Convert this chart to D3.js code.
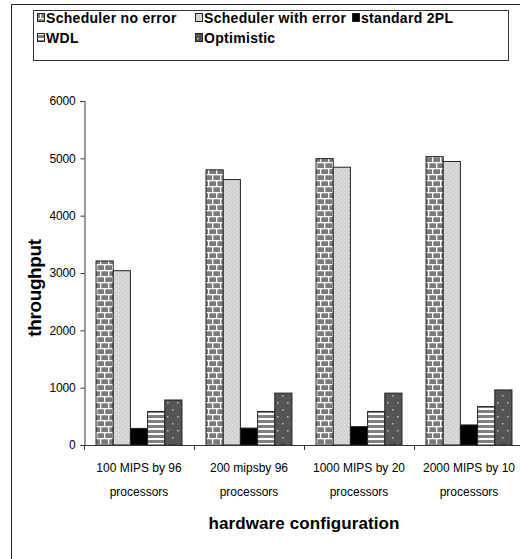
<!DOCTYPE html>
<html>
<head>
<meta charset="utf-8">
<script src="https://cdn.jsdelivr.net/npm/d3@7"></script>
<style>
  html, body { margin: 0; padding: 0; background: #fff; }
  svg { display: block; font-family: "Liberation Sans", Arial, sans-serif; }
</style>
</head>
<body>
<svg id="chart" width="520" height="559"></svg>
<script>
// ---- data ----
const categories = ["100 MIPS by 96|processors", "200 mipsby 96|processors", "1000 MIPS by 20|processors", "2000 MIPS by 10|processors"];
const seriesNames = ["Scheduler no error", "Scheduler with error", "standard 2PL", "WDL", "Optimistic"];
const schedulerNoError   = [3210, 4800, 4995, 5030];
const schedulerWithError = [3040, 4630, 4845, 4945];
const standard2PL        = [290, 295, 320, 350];
const wdl                = [585, 585, 585, 670];
const optimistic         = [785, 905, 905, 960];
const yTicks = [0, 1000, 2000, 3000, 4000, 5000, 6000];

const seriesValues = [schedulerNoError, schedulerWithError, standard2PL, wdl, optimistic];
const fills = ["url(#brick)", "url(#dots)", "#000", "url(#stripes)", "url(#darkdots)"];

const svg = d3.select("#chart");
const defs = svg.append("defs");

// brick pattern
const brick = defs.append("pattern").attr("id", "brick").attr("patternUnits", "userSpaceOnUse")
  .attr("width", 8).attr("height", 12);
brick.append("rect").attr("width", 8).attr("height", 12).attr("fill", "#7a7a7a");
brick.append("rect").attr("x", 0).attr("y", 0).attr("width", 8).attr("height", 1.3).attr("fill", "#fff");
brick.append("rect").attr("x", 0).attr("y", 6).attr("width", 8).attr("height", 1.3).attr("fill", "#fff");
brick.append("rect").attr("x", 0).attr("y", 0).attr("width", 1.3).attr("height", 6).attr("fill", "#fff");
brick.append("rect").attr("x", 4).attr("y", 6).attr("width", 1.3).attr("height", 6).attr("fill", "#fff");

// light dotted pattern
const dots = defs.append("pattern").attr("id", "dots").attr("patternUnits", "userSpaceOnUse")
  .attr("width", 4).attr("height", 4);
dots.append("rect").attr("width", 4).attr("height", 4).attr("fill", "#d2d2d2");
dots.append("rect").attr("x", 0).attr("y", 0).attr("width", 1).attr("height", 1).attr("fill", "#ececec");
dots.append("rect").attr("x", 2).attr("y", 2).attr("width", 1).attr("height", 1).attr("fill", "#ececec");

// stripes pattern
const stripes = defs.append("pattern").attr("id", "stripes").attr("patternUnits", "userSpaceOnUse")
  .attr("width", 8).attr("height", 5);
stripes.append("rect").attr("width", 8).attr("height", 5).attr("fill", "#fff");
stripes.append("rect").attr("y", 0).attr("width", 8).attr("height", 3).attr("fill", "#808080");

// dark dotted pattern
const dd = defs.append("pattern").attr("id", "darkdots").attr("patternUnits", "userSpaceOnUse")
  .attr("width", 10).attr("height", 14);
dd.append("rect").attr("width", 10).attr("height", 14).attr("fill", "#555");
dd.append("rect").attr("x", 2).attr("y", 3).attr("width", 1.5).attr("height", 1.5).attr("fill", "#bbb");
dd.append("rect").attr("x", 7).attr("y", 10).attr("width", 1.5).attr("height", 1.5).attr("fill", "#bbb");

// outer frame
svg.append("path").attr("d", "M11.5,559 V4.5 H520").attr("fill", "none").attr("stroke", "#222").attr("stroke-width", 1);

// scales
const x = d3.scaleBand().domain(categories).range([84, 524]).padding(0);
const xs = d3.scaleBand().domain(d3.range(seriesNames.length)).range([0, x.bandwidth()]).paddingInner(0).paddingOuter(0.7);
const y = d3.scaleLinear().domain([0, 6000]).range([445, 101]);

// bars
categories.forEach((c, ci) => {
  seriesValues.forEach((vals, si) => {
    svg.append("rect")
      .attr("x", x(c) + xs(si))
      .attr("y", y(vals[ci]))
      .attr("width", xs.bandwidth())
      .attr("height", y(0) - y(vals[ci]))
      .attr("fill", fills[si])
      .attr("stroke", "#222")
      .attr("stroke-width", 1);
  });
});

// y axis
const yAxis = d3.axisLeft(y).tickValues(yTicks).tickSize(4).tickPadding(5).tickFormat(d3.format("d"));
const gy = svg.append("g").attr("transform", "translate(84.5,0)").call(yAxis);
gy.select(".domain").attr("stroke", "#333");
gy.selectAll(".tick line").attr("stroke", "#333");
gy.selectAll(".tick text").attr("font-size", 12).attr("fill", "#000").attr("letter-spacing", "-0.2px")
  .attr("font-family", "'Liberation Sans', Arial, sans-serif");

// x axis line and boundary ticks
svg.append("line").attr("x1", 84).attr("x2", 524).attr("y1", 445.5).attr("y2", 445.5).attr("stroke", "#333");
const boundaries = categories.map(c => x(c)).concat([x(categories[categories.length - 1]) + x.bandwidth()]);
svg.selectAll(".xtick").data(boundaries).enter().append("line")
  .attr("x1", d => Math.round(d) + 0.5).attr("x2", d => Math.round(d) + 0.5)
  .attr("y1", 445).attr("y2", 450).attr("stroke", "#333");

// category labels
categories.forEach(c => {
  const lines = c.split("|");
  const cx = x(c) + x.bandwidth() / 2;
  lines.forEach((t, i) => {
    svg.append("text").attr("x", cx).attr("y", 472 + i * 24)
      .attr("text-anchor", "middle").attr("font-size", 12).attr("letter-spacing", "0px").text(t);
  });
});

// axis titles
svg.append("text").attr("x", 304).attr("y", 529).attr("text-anchor", "middle")
  .attr("font-size", 17).attr("font-weight", "bold").attr("letter-spacing", "0.1px").text("hardware configuration");
svg.append("text").attr("transform", "translate(41,288) rotate(-90)").attr("text-anchor", "middle")
  .attr("font-size", 19).attr("font-weight", "bold").attr("letter-spacing", "-0.4px").text("throughput");

// legend
svg.append("rect").attr("x", 33.5).attr("y", 10.5).attr("width", 475).attr("height", 50)
  .attr("fill", "#fff").attr("stroke", "#333");
const legendPos = [[37, 18], [195, 18], [352, 18], [37, 38], [195, 38]];
seriesNames.forEach((n, i) => {
  const [lx, ly] = legendPos[i];
  svg.append("rect").attr("x", lx + 0.5).attr("y", ly - 4.5).attr("width", 7).attr("height", 8)
    .attr("fill", fills[i]).attr("stroke", "#222");
  svg.append("text").attr("x", lx + 9).attr("y", ly + 5).attr("font-size", 14).attr("font-weight", "bold")
    .attr("letter-spacing", "0.3px").text(n);
});
</script>
</body>
</html>
